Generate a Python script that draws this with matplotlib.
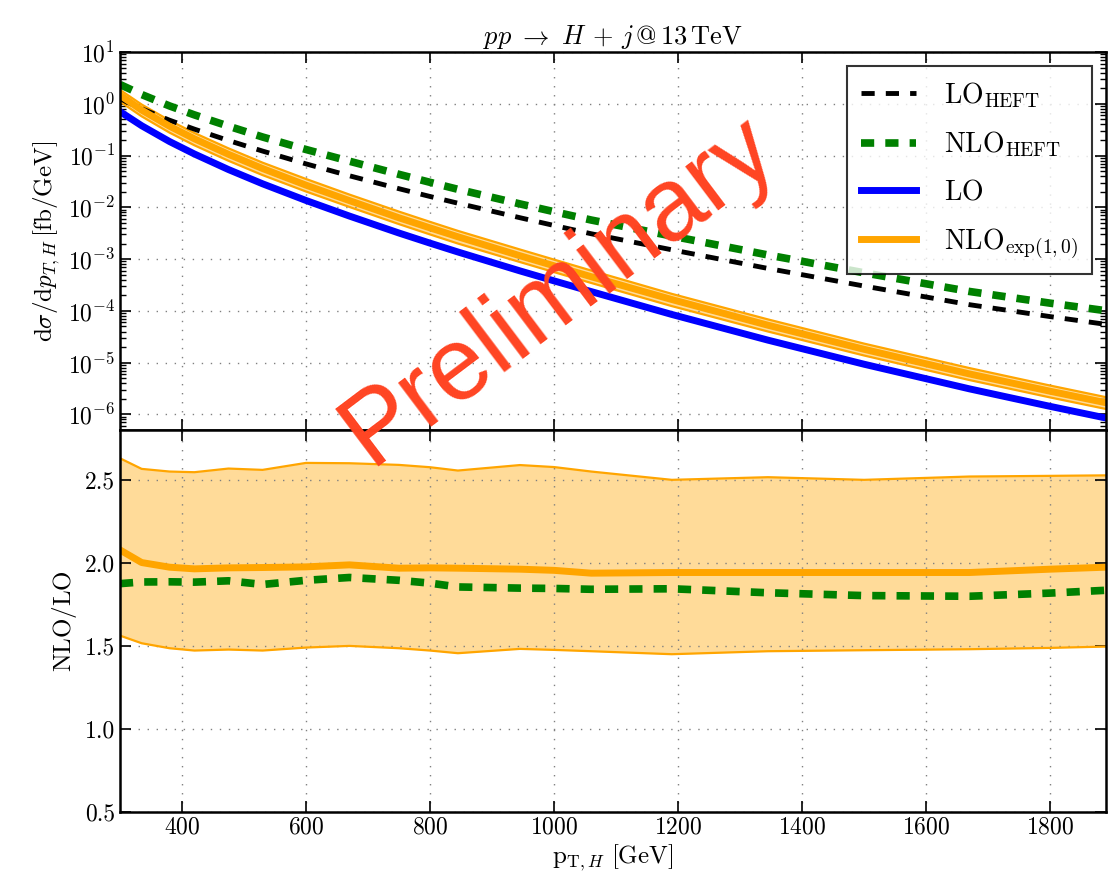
import numpy as np
import matplotlib
matplotlib.use("Agg")
import matplotlib.pyplot as plt
from matplotlib.ticker import LogLocator, FixedLocator, FormatStrFormatter, NullFormatter

# pT bins [GeV]
pt = np.array([300, 335, 380, 420, 475, 530, 600, 670, 750, 800, 845,
               945, 1000, 1060, 1190, 1345, 1500, 1670, 1800, 1890])

# log10 of dsigma/dpT [fb/GeV]
log_lo = np.array([-0.15, -0.423, -0.729, -0.969, -1.27, -1.545, -1.867, -2.168, -2.496, -2.691, -2.862,
                   -3.227, -3.42, -3.627, -4.069, -4.565, -5.03, -5.506, -5.844, -6.069])
log_lo_heft = np.array([0.10, -0.096, -0.317, -0.489, -0.709, -0.913, -1.16, -1.39, -1.64, -1.79, -1.92,
                        -2.20, -2.35, -2.51, -2.82, -3.18, -3.52, -3.88, -4.11, -4.26])

# K-factors NLO/LO
k_heft = np.array([1.875, 1.885, 1.886, 1.884, 1.892, 1.870, 1.895, 1.912, 1.895, 1.878, 1.855,
                   1.848, 1.846, 1.841, 1.844, 1.820, 1.803, 1.799, 1.818, 1.835])
k_nlo = np.array([2.078, 2.002, 1.974, 1.964, 1.970, 1.972, 1.976, 1.988, 1.968, 1.970, 1.968,
                  1.962, 1.955, 1.938, 1.942, 1.942, 1.942, 1.942, 1.962, 1.974])
k_nlo_up = np.array([2.630, 2.566, 2.550, 2.546, 2.568, 2.560, 2.602, 2.600, 2.590, 2.576, 2.556,
                     2.589, 2.577, 2.550, 2.500, 2.516, 2.500, 2.520, 2.524, 2.527])
k_nlo_dn = np.array([1.562, 1.516, 1.486, 1.472, 1.478, 1.472, 1.490, 1.500, 1.486, 1.472, 1.456,
                     1.482, 1.476, 1.468, 1.450, 1.468, 1.474, 1.480, 1.488, 1.496])

lo = 10**log_lo
lo_heft = 10**log_lo_heft
nlo_heft = lo_heft * k_heft
nlo = lo * k_nlo

plt.rcParams['mathtext.fontset'] = 'cm'
plt.rcParams['font.family'] = 'serif'
plt.rcParams['font.serif'] = ['cmr10']
plt.rcParams['axes.formatter.use_mathtext'] = True
plt.rcParams['axes.unicode_minus'] = False
plt.rcParams['lines.scale_dashes'] = False

orange = '#ffa500'
green = '#008000'
dash = (9.5, 8)

fig = plt.figure(figsize=(11.19, 8.76), dpi=100)
ax1 = fig.add_axes([0.1072, 0.5091, 0.8811, 0.4315])
ax2 = fig.add_axes([0.1072, 0.0731, 0.8811, 0.4360], sharex=ax1)

# upper panel: spectra
ax1.fill_between(pt, lo * k_nlo_dn, lo * k_nlo_up, color=orange, alpha=0.4, lw=0)
ax1.plot(pt, lo * k_nlo_dn, color=orange, lw=1.6)
ax1.plot(pt, lo * k_nlo_up, color=orange, lw=1.6)
ax1.plot(pt, lo_heft, color='k', lw=3.5, ls='--', dashes=dash, dash_capstyle='butt',
         label=r'$\mathrm{LO}_{\mathrm{HEFT}}$')
ax1.plot(pt, nlo_heft, color=green, lw=5.5, ls='--', dashes=dash, dash_capstyle='butt',
         label=r'$\mathrm{NLO}_{\mathrm{HEFT}}$')
ax1.plot(pt, lo, color='#0000ff', lw=5, label=r'$\mathrm{LO}$')
ax1.plot(pt, nlo, color=orange, lw=5, label=r'$\mathrm{NLO}_{\mathrm{exp}(1,0)}$')

ax1.set_yscale('log')
ax1.set_ylim(5e-7, 10)
ax1.set_xlim(300, 1890)
ax1.yaxis.set_major_locator(LogLocator(base=10, numticks=20))
ax1.yaxis.set_minor_locator(LogLocator(base=10, subs=np.arange(2, 10), numticks=20))
ax1.yaxis.set_minor_formatter(NullFormatter())
ax1.set_ylabel(r'$\mathrm{d}\sigma/\mathrm{d}p_{T,H}\,[\mathrm{fb}/\mathrm{GeV}]$', fontsize=18)
ax1.set_title(r'$pp\ \rightarrow\ H\,+\,j\,@\,13\,\mathrm{TeV}$', fontsize=19, pad=6)
leg = ax1.legend(loc='upper right', fontsize=20, handlelength=2.0, frameon=True, fancybox=False,
                 borderpad=0.5, labelspacing=0.72, handletextpad=1.0, borderaxespad=0.5)
leg.get_frame().set_edgecolor('k')
leg.get_frame().set_linewidth(1.5)
ax1.tick_params(axis='x', labelbottom=False)

# lower panel: ratio
ax2.fill_between(pt, k_nlo_dn, k_nlo_up, color=orange, alpha=0.4, lw=0)
ax2.plot(pt, k_nlo_dn, color=orange, lw=1.6)
ax2.plot(pt, k_nlo_up, color=orange, lw=1.6)
ax2.plot(pt, k_nlo, color=orange, lw=5)
ax2.plot(pt, k_heft, color=green, lw=5.5, ls='--', dashes=dash, dash_capstyle='butt')
ax2.set_ylim(0.5, 2.8)
ax2.yaxis.set_major_locator(FixedLocator([0.5, 1.0, 1.5, 2.0, 2.5]))
ax2.yaxis.set_major_formatter(FormatStrFormatter('%.1f'))
ax2.xaxis.set_major_locator(FixedLocator(np.arange(400, 1900, 200)))
ax2.set_ylabel(r'$\mathrm{NLO}/\mathrm{LO}$', fontsize=18)
ax2.set_xlabel(r'$\mathrm{p}_{\mathrm{T},H}\ [\mathrm{GeV}]$', fontsize=18, labelpad=2)

for ax in (ax1, ax2):
    ax.grid(True, which='major', color='0.5', lw=1, ls=(0, (1, 5.5)))
    ax.tick_params(which='both', direction='in', top=True, right=True, labelsize=17)
    ax.tick_params(which='major', length=8, width=1.2)
    ax.tick_params(which='minor', length=4, width=1)
    for sp in ax.spines.values():
        sp.set_linewidth(1.8)

fig.text(0.50, 0.668, 'Preliminary', rotation=37, fontsize=74, color='#ff4422',
         family='Liberation Sans', ha='center', va='center', zorder=10)

fig.savefig('out.png', dpi=100)
